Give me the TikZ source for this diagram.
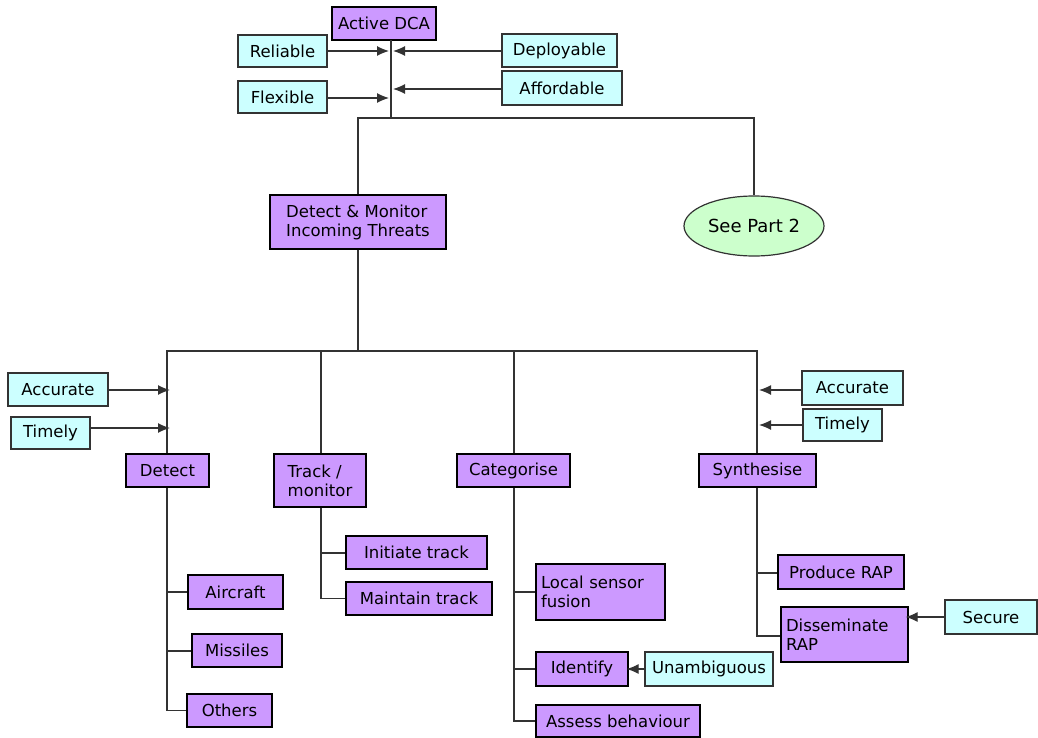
\documentclass[tikz,border=0pt]{standalone}
\usepackage{fontspec}
\setmainfont{DejaVu Sans}
\usetikzlibrary{arrows.meta,shapes.geometric}
\definecolor{taskfill}{HTML}{CC99FF}
\definecolor{qualfill}{HTML}{CCFFFF}
\definecolor{partfill}{HTML}{CCFFCC}
\definecolor{wire}{HTML}{333333}
\begin{document}
\begin{tikzpicture}[x=1pt,y=-1pt,
  every node/.style={font=\fontsize{16.5}{19}\selectfont, inner sep=2pt},
  task/.style={draw=black, line width=1.2pt, fill=taskfill, rectangle},
  qual/.style={draw=black!80, line width=1.2pt, fill=qualfill, rectangle},
  link/.style={draw=wire, line width=1.2pt},
  feed/.style={link, -{Latex[length=12pt,width=10pt]}},
]
\useasboundingbox (0,0) rectangle (1038,738);

% top level
\node[task, minimum width=104pt, minimum height=33pt] (adca) at (384,23.5) {Active DCA};
\node[qual, minimum width=89pt, minimum height=32pt] (rel) at (282.5,51) {Reliable};
\node[qual, minimum width=89pt, minimum height=32pt] (flex) at (282.5,97) {Flexible};
\node[qual, minimum width=115pt, minimum height=33pt] (dep) at (559.5,50.5) {Deployable};
\node[qual, minimum width=120pt, minimum height=34pt] (aff) at (562,88) {Affordable};

\coordinate (topj) at (391,118);
\coordinate (topl) at (358,118);
\coordinate (topr) at (754,118);
\coordinate (trel) at (389,51);
\coordinate (tdep) at (393,51);
\coordinate (tflex) at (389,98);
\coordinate (taff) at (393,89);

\draw[link] (391,40) -- (topj);
\draw[feed] (rel.east) -- (trel);
\draw[feed] (dep.west|-tdep) -- (tdep);
\draw[feed] (flex.east|-tflex) -- (tflex);
\draw[feed] (aff.west|-taff) -- (taff);

% second level
\node[task, minimum width=176pt, minimum height=54pt, align=left] (dmi) at (358,222) {Detect \& Monitor\\Incoming Threats};
\node[ellipse, draw=black!80, line width=1.2pt, fill=partfill, minimum width=140pt, minimum height=60pt, font=\fontsize{18}{20}\selectfont] (part2) at (754,226) {See Part 2};

\draw[link] (dmi.north) |- (topl) -- (topr) -- (part2.north);

% third level
\node[task, minimum width=83pt, minimum height=33pt] (det) at (167.5,470.5) {Detect};
\node[task, minimum width=92pt, minimum height=53pt, align=left] (trk) at (320,480.5) {Track /\\monitor};
\node[task, minimum width=113pt, minimum height=33pt] (cat) at (513.5,470.5) {Categorise};
\node[task, minimum width=117pt, minimum height=33pt] (syn) at (757.5,470.5) {Synthesise};

\coordinate (midj) at (358,351);
\coordinate (midl) at (167,351);
\coordinate (midr) at (757,351);
\draw[link] (dmi.south) -- (midj);
\draw[link] (det.north-|midl) -- (midl) -- (midr) -- (syn.north-|midr);
\draw[link] (trk.north-|321,0) -- (321,351);
\draw[link] (cat.north-|514,0) -- (514,351);

\node[qual, minimum width=100pt, minimum height=33pt] (accl) at (58,389.5) {Accurate};
\node[qual, minimum width=79pt, minimum height=32pt] (timl) at (50.5,433) {Timely};
\node[qual, minimum width=101pt, minimum height=34pt] (accr) at (852.5,388) {Accurate};
\node[qual, minimum width=79pt, minimum height=32pt] (timr) at (842.5,425) {Timely};

\coordinate (taccl) at (170,390);
\coordinate (ttiml) at (170,428);
\coordinate (taccr) at (759,390);
\coordinate (ttimr) at (759,425);
\draw[feed] (accl.east|-taccl) -- (taccl);
\draw[feed] (timl.east|-ttiml) -- (ttiml);
\draw[feed] (accr.west|-taccr) -- (taccr);
\draw[feed] (timr.west) -- (ttimr);

% detect branch
\node[task, minimum width=95pt, minimum height=34pt] (air) at (235.5,592) {Aircraft};
\node[task, minimum width=90pt, minimum height=33pt] (mis) at (237,650.5) {Missiles};
\node[task, minimum width=85pt, minimum height=33pt] (oth) at (229.5,710.5) {Others};
\draw[link] (det.south-|167,0) |- (oth.west);
\draw[link] (167,592) -- (air.west);
\draw[link] (167,651) -- (mis.west|-167,651);

% track branch
\node[task, minimum width=141pt, minimum height=33pt] (ini) at (416.5,552.5) {Initiate track};
\node[task, minimum width=146pt, minimum height=33pt] (mnt) at (419,598.5) {Maintain track};
\draw[link] (trk.south-|321,0) |- (mnt.west);
\draw[link] (321,553) -- (ini.west|-321,553);

% categorise branch
\node[task, minimum width=129pt, minimum height=56pt, align=left, text width=119pt] (lsf) at (600.5,592) {Local sensor\\fusion};
\node[task, minimum width=92pt, minimum height=34pt] (idt) at (582,669) {Identify};
\node[qual, minimum width=128pt, minimum height=34pt] (una) at (709,669) {Unambiguous};
\node[task, minimum width=164pt, minimum height=32pt] (asb) at (618,721) {Assess behaviour};
\draw[link] (cat.south-|514,0) |- (asb.west);
\draw[link] (514,592) -- (lsf.west);
\draw[link] (514,669) -- (idt.west);
\draw[feed] (una.west) -- ([xshift=-2pt]idt.east);

% synthesise branch
\node[task, minimum width=126pt, minimum height=34pt] (pro) at (841,572) {Produce RAP};
\node[task, minimum width=127pt, minimum height=55pt, align=left, text width=117pt] (dis) at (844.5,634.5) {Disseminate\\RAP};
\node[qual, minimum width=92pt, minimum height=34pt] (sec) at (991,617) {Secure};
\draw[link] (syn.south-|757,0) |- (dis.west|-757,636);
\draw[link] (757,573) -- (pro.west|-757,573);
\draw[feed] (sec.west) -- ([xshift=-3pt]dis.east|-sec.west);
\end{tikzpicture}
\end{document}
